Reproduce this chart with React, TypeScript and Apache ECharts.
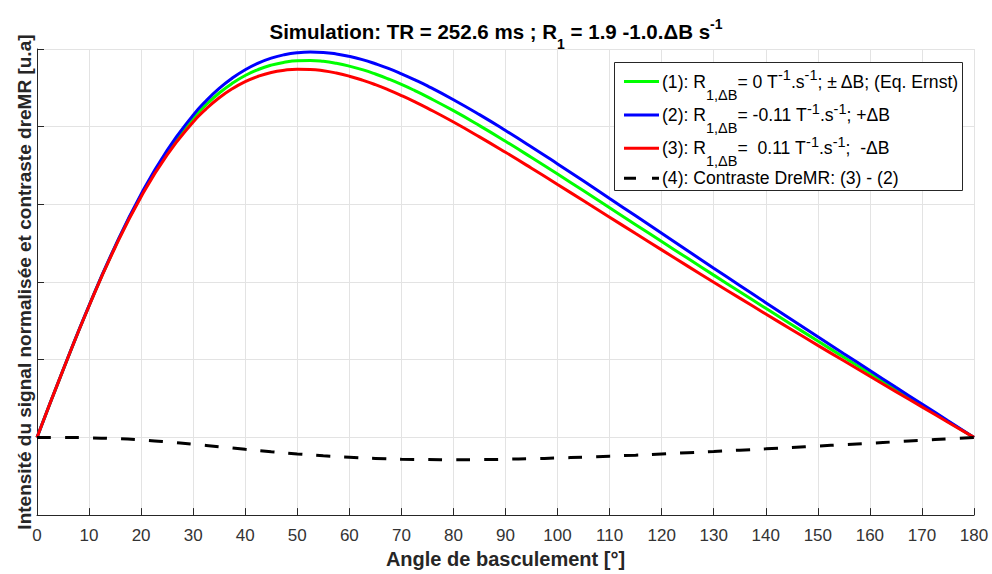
import React, { useEffect, useRef } from "react";
import * as echarts from "echarts";

// Flip angle (degrees) for the three signal curves (denser around the maximum)
const signalAngles = [0, 5, 10, 15, 20, 25, 30, 32.5, 35, 37.5, 40, 42.5, 45, 47.5, 50, 52.5, 55, 57.5, 60, 62.5, 65, 67.5, 70, 72.5, 75, 80, 85, 90, 95, 100, 105, 110, 115, 120, 125, 130, 135, 140, 145, 150, 155, 160, 165, 170, 175, 180];

// (1) Ernst, R1,dB = 0
const greenSignal = [0, 0.0866, 0.1695, 0.2453, 0.3115, 0.3668, 0.4107, 0.4284, 0.4434, 0.4558, 0.4659, 0.4736, 0.4792, 0.4829, 0.4849, 0.4852, 0.4841, 0.4816, 0.4780, 0.4734, 0.4678, 0.4614, 0.4544, 0.4467, 0.4384, 0.4206, 0.4014, 0.3812, 0.3603, 0.3390, 0.3174, 0.2956, 0.2739, 0.2521, 0.2305, 0.2089, 0.1875, 0.1662, 0.1451, 0.1241, 0.1032, 0.0824, 0.0618, 0.0411, 0.0206, 0];
// (2) +dB
const blueSignal = [0, 0.0867, 0.1697, 0.2460, 0.3131, 0.3696, 0.4149, 0.4334, 0.4492, 0.4624, 0.4733, 0.4818, 0.4882, 0.4926, 0.4952, 0.4961, 0.4956, 0.4937, 0.4905, 0.4863, 0.4810, 0.4750, 0.4681, 0.4606, 0.4525, 0.4347, 0.4155, 0.3951, 0.3739, 0.3521, 0.3300, 0.3076, 0.2852, 0.2627, 0.2403, 0.2179, 0.1957, 0.1735, 0.1515, 0.1296, 0.1078, 0.0862, 0.0645, 0.0430, 0.0215, 0];
// (3) -dB
const redSignal = [0, 0.0866, 0.1692, 0.2445, 0.3098, 0.3638, 0.4061, 0.4230, 0.4372, 0.4488, 0.4580, 0.4649, 0.4698, 0.4727, 0.4740, 0.4737, 0.4720, 0.4690, 0.4650, 0.4600, 0.4541, 0.4474, 0.4401, 0.4323, 0.4239, 0.4060, 0.3869, 0.3670, 0.3465, 0.3256, 0.3046, 0.2835, 0.2624, 0.2414, 0.2205, 0.1998, 0.1793, 0.1589, 0.1386, 0.1185, 0.0986, 0.0787, 0.0589, 0.0393, 0.0196, 0];

// (4) contrast (3) - (2)
const contrastAngles = [0, 5, 10, 15, 20, 25, 30, 35, 40, 45, 50, 55, 60, 65, 70, 75, 80, 85, 90, 95, 100, 105, 110, 115, 120, 125, 130, 135, 140, 145, 150, 155, 160, 165, 170, 175, 180];
const contrastDreMR = [0, -0.0001, -0.0005, -0.0015, -0.0033, -0.0058, -0.0088, -0.0120, -0.0153, -0.0184, -0.0212, -0.0236, -0.0255, -0.0270, -0.0280, -0.0285, -0.0287, -0.0286, -0.0281, -0.0274, -0.0265, -0.0254, -0.0241, -0.0228, -0.0213, -0.0197, -0.0181, -0.0164, -0.0147, -0.0129, -0.0111, -0.0093, -0.0075, -0.0056, -0.0037, -0.0019, 0];

const seriesNames = [
  "(1): R1,ΔB= 0 T-1.s-1; ± ΔB; (Eq. Ernst)",
  "(2): R1,ΔB= -0.11 T-1.s-1; +ΔB",
  "(3): R1,ΔB=  0.11 T-1.s-1;  -ΔB",
  "(4): Contraste DreMR: (3) - (2)",
];
const legendRich = [
  "{n|(1): R}{sub|1,ΔB}{n|= 0 T}{sup|-1}{n|.s}{sup|-1}{n|; ± ΔB; (Eq. Ernst)}",
  "{n|(2): R}{sub|1,ΔB}{n|= -0.11 T}{sup|-1}{n|.s}{sup|-1}{n|; +ΔB}",
  "{n|(3): R}{sub|1,ΔB}{n|=  0.11 T}{sup|-1}{n|.s}{sup|-1}{n|;  -ΔB}",
  "{n|(4): Contraste DreMR: (3) - (2)}",
];
const titleRich = "{b|Simulation: TR = 252.6 ms ; R}{bs|1}{b| = 1.9 -1.0.ΔB s}{bp|-1}";
const xAxisName = "Angle de basculement [°]";
const yAxisName = "Intensité du signal normalisée et contraste dreMR [u.a]";

const COLORS = ["#00ff00", "#0000ff", "#ff0000", "#000000"];
const FONT = "'Liberation Sans', Arial, Helvetica, sans-serif";

// legend layout (pixels)
const LEG_BOX = { x: 614.5, y: 62.5, w: 348, h: 128 };
const LEG_ROWS_Y = [81.5, 115, 148.3, 178.3];
const LEG_ICON_X = [624, 659];
const LEG_TEXT_X = 662;

export default function App() {
  const ref = useRef<HTMLDivElement>(null);
  useEffect(() => {
    document.body.style.margin = "0";
    if (!ref.current) return;
    const chart = echarts.init(ref.current, undefined, { renderer: "svg" });
    const mk = (xs: number[], vals: number[]) => xs.map((a, i) => [a, vals[i]]);
    const legendRichStyles = {
      n: { fontFamily: FONT, fontSize: 17.6, fill: "#000", color: "#000" },
      sub: { fontFamily: FONT, fontSize: 14.5, fill: "#000", color: "#000", padding: [26, 0, 0, 0] },
      sup: { fontFamily: FONT, fontSize: 14.5, fill: "#000", color: "#000", padding: [0, 0, 13, 0] },
    };
    const graphic: any[] = [
      {
        type: "rect",
        z: 100,
        shape: { x: LEG_BOX.x, y: LEG_BOX.y, width: LEG_BOX.w, height: LEG_BOX.h },
        style: { fill: "#fff", stroke: "#262626", lineWidth: 1 },
      },
    ];
    seriesNames.forEach((_, i) => {
      graphic.push({
        type: "line",
        z: 101,
        shape: { x1: LEG_ICON_X[0], y1: LEG_ROWS_Y[i], x2: LEG_ICON_X[1], y2: LEG_ROWS_Y[i] },
        style: { stroke: COLORS[i], lineWidth: 3, lineDash: i === 3 ? [12, 16] : null },
      });
      graphic.push({
        type: "text",
        z: 101,
        x: LEG_TEXT_X,
        y: LEG_ROWS_Y[i],
        style: {
          text: legendRich[i],
          fill: "#000",
          fontFamily: FONT,
          fontSize: 17.6,
          align: "left",
          verticalAlign: "middle",
          rich: legendRichStyles,
        },
      });
    });

    const option: any = {
      animation: false,
      textStyle: { fontFamily: FONT },
      title: {
        text: titleRich,
        left: "center",
        top: 11,
        padding: 0,
        textStyle: {
          rich: {
            b: { fontFamily: FONT, fontSize: 20.5, fontWeight: "bold", color: "#000", lineHeight: 26 },
            bs: { fontFamily: FONT, fontSize: 14, fontWeight: "bold", color: "#000", padding: [26, 0, 0, 0] },
            bp: { fontFamily: FONT, fontSize: 14, fontWeight: "bold", color: "#000", padding: [0, 0, 14, 0] },
          },
        },
      },
      grid: { left: 37, right: 18, top: 49, bottom: 57, containLabel: false },
      xAxis: {
        type: "value",
        min: 0,
        max: 180,
        interval: 10,
        name: xAxisName,
        nameLocation: "middle",
        nameGap: 33,
        nameTextStyle: { fontFamily: FONT, fontSize: 20, fontWeight: "bold", color: "#262626" },
        axisLine: { show: true, onZero: false, lineStyle: { color: "#262626", width: 1 } },
        axisTick: { show: true, inside: true, length: 7, lineStyle: { color: "#262626" } },
        axisLabel: { show: true, fontFamily: FONT, fontSize: 17, color: "#333", margin: 12 },
        splitLine: { show: true, lineStyle: { color: "#e3e3e3", width: 1 } },
      },
      yAxis: {
        type: "value",
        min: -0.1,
        max: 0.5,
        interval: 0.1,
        name: yAxisName,
        nameLocation: "middle",
        nameGap: 3,
        nameTextStyle: { fontFamily: FONT, fontSize: 19, fontWeight: "bold", color: "#262626" },
        axisLine: { show: true, onZero: false, lineStyle: { color: "#262626", width: 1 } },
        axisTick: { show: true, inside: true, length: 7, lineStyle: { color: "#262626" } },
        axisLabel: { show: false },
        splitLine: { show: true, lineStyle: { color: "#e3e3e3", width: 1 } },
      },
      graphic,
      series: [
        { name: seriesNames[0], type: "line", data: mk(signalAngles, greenSignal), smooth: true, symbol: "none", lineStyle: { color: COLORS[0], width: 3 }, itemStyle: { color: COLORS[0] } },
        { name: seriesNames[1], type: "line", data: mk(signalAngles, blueSignal), smooth: true, symbol: "none", lineStyle: { color: COLORS[1], width: 3 }, itemStyle: { color: COLORS[1] } },
        { name: seriesNames[2], type: "line", data: mk(signalAngles, redSignal), smooth: true, symbol: "none", lineStyle: { color: COLORS[2], width: 3 }, itemStyle: { color: COLORS[2] } },
        { name: seriesNames[3], type: "line", data: mk(contrastAngles, contrastDreMR), smooth: true, symbol: "none", lineStyle: { color: COLORS[3], width: 3, type: [14, 14] }, itemStyle: { color: COLORS[3] } },
      ],
    };
    chart.setOption(option);
    return () => chart.dispose();
  }, []);
  return <div ref={ref} style={{ width: 992, height: 574 }} />;
}
